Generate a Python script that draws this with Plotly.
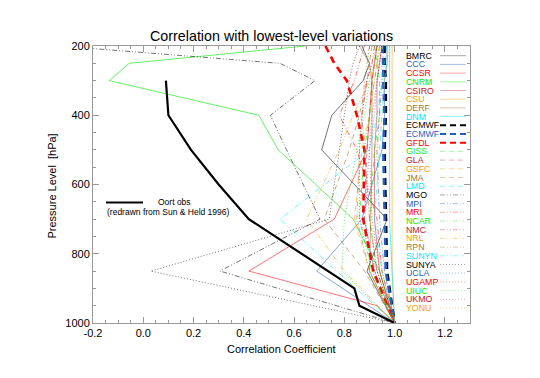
import plotly.graph_objects as go

# ---------------- data ----------------
levels = [200, 250, 300, 400, 500, 700, 850, 1000]
ccsr_levels = [200, 250, 300, 400, 500, 700, 850, 950, 1000]

models = ["BMRC", "CCC", "CCSR", "CNRM", "CSIRO", "CSU", "DERF", "DNM",
          "ECMWF", "ECMWF", "GFDL", "GISS", "GLA", "GSFC", "JMA", "LMD",
          "MGO", "MPI", "MRI", "NCAR", "NMC", "NRL", "RPN", "SUNYN",
          "SUNYA", "UCLA", "UGAMP", "UIUC", "UKMO", "YONU"]

BMRC = [0.87, 0.90, 0.875, 0.75, 0.71, 0.97, 0.89, 1.0]
CCC = [0.97, 0.97, 0.96, 0.96, 0.95, 0.87, 0.69, 1.0]
CCSR = [0.93, 0.92, 0.91, 0.90, 0.89, 0.76, 0.42, 0.93, 1.0]
CNRM = [0.645, -0.056, -0.135, 0.46, 0.537, 0.835, 0.94, 1.0]
CSIRO = [0.95, 0.94, 0.93, 0.93, 0.92, 0.92, 0.94, 1.0]
CSU = [0.99, 0.99, 0.99, 0.99, 0.99, 0.99, 0.99, 1.0]
DERF = [0.86, 0.90, 0.91, 0.91, 0.91, 0.905, 0.90, 1.0]
DNM = [0.98, 0.98, 0.98, 0.98, 0.98, 0.98, 0.99, 1.0]
ECMWF_a = [0.96, 0.96, 0.965, 0.965, 0.96, 0.965, 0.97, 1.0]
ECMWF_b = [0.95, 0.955, 0.955, 0.96, 0.955, 0.96, 0.965, 1.0]
GFDL = [0.725, 0.76, 0.81, 0.85, 0.88, 0.875, 0.915, 1.0]
GISS = [0.92, 0.93, 0.94, 0.94, 0.92, 0.90, 0.93, 1.0]
GLA = [0.93, 0.92, 0.91, 0.90, 0.89, 0.88, 0.92, 1.0]
GSFC = [0.94, 0.93, 0.92, 0.90, 0.87, 0.84, 0.90, 1.0]
JMA = [0.91, 0.90, 0.89, 0.86, 0.82, 0.72, 0.88, 1.0]
LMD = [0.97, 0.97, 0.96, 0.95, 0.94, 0.92, 0.95, 1.0]
MGO = [-0.33, 0.544, 0.683, 0.506, 0.57, 0.703, 0.305, 1.0]
MPI = [0.96, 0.95, 0.95, 0.94, 0.93, 0.94, 0.96, 1.0]
MRI = [0.88, 0.86, 0.84, 0.78, 0.85, 0.93, 0.95, 1.0]
NCAR = [0.94, 0.93, 0.92, 0.90, 0.88, 0.86, 0.91, 1.0]
NMC = [0.92, 0.91, 0.89, 0.87, 0.88, 0.90, 0.93, 1.0]
NRL = [0.95, 0.93, 0.90, 0.835, 0.78, 0.65, 0.80, 1.0]
RPN = [0.90, 0.89, 0.88, 0.87, 0.86, 0.85, 0.90, 1.0]
SUNYN = [0.97, 0.96, 0.95, 0.93, 0.90, 0.544, 0.77, 1.0]
SUNYA = [0.86, 0.835, 0.82, 0.80, 0.78, 0.74, 0.03, 1.0]
UCLA = [0.95, 0.94, 0.93, 0.92, 0.90, 0.88, 0.92, 1.0]
UGAMP = [0.93, 0.91, 0.89, 0.87, 0.86, 0.86, 0.93, 1.0]
UIUC = [0.93, 0.92, 0.90, 0.88, 0.85, 0.80, 0.79, 1.0]
UKMO = [0.95, 0.94, 0.93, 0.91, 0.90, 0.91, 0.94, 1.0]
YONU = [0.98, 0.97, 0.96, 0.95, 0.93, 0.90, 0.95, 1.0]

series = [BMRC, CCC, CCSR, CNRM, CSIRO, CSU, DERF, DNM,
          ECMWF_a, ECMWF_b, GFDL, GISS, GLA, GSFC, JMA, LMD,
          MGO, MPI, MRI, NCAR, NMC, NRL, RPN, SUNYN,
          SUNYA, UCLA, UGAMP, UIUC, UKMO, YONU]

oort_levels = [300, 400, 500, 600, 700, 900, 950, 1000]
oort_corr = [0.09, 0.10, 0.19, 0.30, 0.42, 0.84, 0.86, 1.0]

x_ticks = [-0.2, 0.0, 0.2, 0.4, 0.6, 0.8, 1.0, 1.2]
y_ticks = [200, 400, 600, 800, 1000]

# ---------------- styles ----------------
text_colors = ["#000000", "#1f5fbf", "#ff0000", "#00ee00",
               "#c8102e", "#ff9900", "#a07830", "#00e8ff"]
line_colors = ["rgba(0,0,0,0.55)", "rgba(31,95,191,0.55)", "rgba(255,0,0,0.55)",
               "rgba(0,230,0,0.6)", "rgba(200,16,46,0.5)", "rgba(255,153,0,0.55)",
               "rgba(160,120,48,0.6)", "rgba(0,232,255,0.6)"]
legend_colors = ["rgba(0,0,0,0.35)", "rgba(31,95,191,0.4)", "rgba(255,0,0,0.35)",
                 "rgba(0,230,0,0.35)", "rgba(200,16,46,0.35)", "rgba(255,153,0,0.4)",
                 "rgba(160,120,48,0.4)", "rgba(0,232,255,0.45)"]
thick_colors = ["#000000", "#1f5fbf", "#ff0000"]
group_dash = ["solid", "5px,4px", "5px,2px,1px,2px,1px,2px", "1px,2px"]

fig = go.Figure()

for i, (name, vals) in enumerate(zip(models, series)):
    group = i // 8
    ci = i % 8
    width = 1
    color = line_colors[ci]
    dash = group_dash[group]
    if i in (8, 9, 10):  # thick dashed ECMWF, ECMWF, GFDL
        width = 2.6
        color = thick_colors[i - 8]
        dash = "7px,5px"
    yy = ccsr_levels if name == "CCSR" else levels
    fig.add_trace(go.Scatter(x=vals, y=yy, mode="lines",
                             line=dict(color=color, width=width, dash=dash),
                             showlegend=False, hoverinfo="skip"))

fig.add_trace(go.Scatter(x=oort_corr, y=oort_levels, mode="lines",
                         line=dict(color="#000000", width=2.2),
                         showlegend=False, hoverinfo="skip"))

# ---------------- geometry (screen px; page body has an 8px margin) ----------------
OFF = 8
FIG_W, FIG_H = 540 - OFF, 378 - OFF
L, R, T, B = 93 - OFF, 470 - OFF, 46 - OFF, 323 - OFF
W, H = R - L, B - T


def px_x(x):
    return (x - OFF - L) / W


def px_y(y):
    return 1 - (y - OFF - T) / H


annotations = []
shapes = []
FONT = "Liberation Sans, Arial"

# model legend
y0 = 55.7
step = 8.7
for i, name in enumerate(models):
    group = i // 8
    ci = i % 8
    yy = y0 + i * step
    annotations.append(dict(x=px_x(405), y=px_y(yy), xref="paper", yref="paper",
                            text=name, showarrow=False, xanchor="left", yanchor="middle",
                            borderpad=0,
                            font=dict(family=FONT, size=8.8, color=text_colors[ci])))
    color = legend_colors[ci]
    dash = group_dash[group]
    width = 1
    if i in (8, 9, 10):
        color = thick_colors[i - 8]
        width = 2
        dash = "6px,4px"
    shapes.append(dict(type="line", xref="paper", yref="paper",
                       x0=px_x(440), x1=px_x(466), y0=px_y(yy), y1=px_y(yy),
                       line=dict(color=color, width=width, dash=dash)))

# Oort legend
shapes.append(dict(type="line", xref="paper", yref="paper",
                   x0=px_x(106), x1=px_x(143), y0=px_y(202.5), y1=px_y(202.5),
                   line=dict(color="#000000", width=2)))
annotations.append(dict(x=px_x(156), y=px_y(201.5), xref="paper", yref="paper",
                        text="Oort obs", showarrow=False, xanchor="left", yanchor="middle",
                        font=dict(family=FONT, size=8.5, color="#000")))
annotations.append(dict(x=px_x(105), y=px_y(211.5), xref="paper", yref="paper",
                        text="(redrawn from Sun & Held 1996)", showarrow=False,
                        xanchor="left", yanchor="middle",
                        font=dict(family=FONT, size=8.5, color="#000")))

# titles
annotations.append(dict(x=px_x(271.5), y=px_y(36), xref="paper", yref="paper",
                        text="Correlation with lowest-level variations", showarrow=False,
                        xanchor="center", yanchor="middle",
                        font=dict(family=FONT, size=14.3, color="#000")))
annotations.append(dict(x=0.5, y=px_y(349), xref="paper", yref="paper",
                        text="Correlation Coefficient", showarrow=False,
                        xanchor="center", yanchor="middle",
                        font=dict(family=FONT, size=11, color="#000")))
annotations.append(dict(x=px_x(51.5), y=px_y(186), xref="paper", yref="paper",
                        text="Pressure Level  [hPa]", showarrow=False, textangle=-90,
                        xanchor="center", yanchor="middle",
                        font=dict(family=FONT, size=11, color="#000")))

axis_common = dict(showgrid=False, zeroline=False, showline=True, linecolor="#999999",
                   linewidth=1, ticks="inside", tickcolor="#999999", ticklen=6,
                   mirror="allticks", automargin=False,
                   tickfont=dict(family=FONT, size=11, color="#000"))

fig.update_layout(
    width=FIG_W, height=FIG_H,
    margin=dict(l=L, r=FIG_W - R, t=T, b=FIG_H - B, autoexpand=False),
    paper_bgcolor="white", plot_bgcolor="white",
    showlegend=False,
    xaxis=dict(range=[-0.2, 1.3], tickvals=x_ticks,
               ticktext=["%.1f" % v for v in x_ticks],
               minor=dict(dtick=0.05, tick0=0, ticks="inside", ticklen=3, tickcolor="#999999"),
               **axis_common),
    yaxis=dict(range=[1000, 200], tickvals=y_ticks,
               ticktext=[str(v) for v in y_ticks],
               minor=dict(dtick=50, tick0=0, ticks="inside", ticklen=3, tickcolor="#999999"),
               **axis_common),
    annotations=annotations,
    shapes=shapes,
)

fig.write_html("out.html")
